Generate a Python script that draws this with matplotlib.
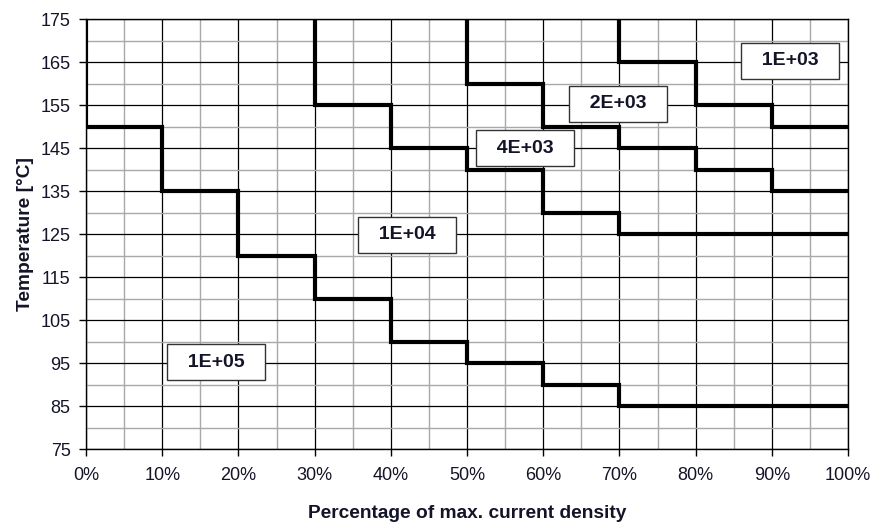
import numpy as np
import matplotlib
matplotlib.use("Agg")
import matplotlib.pyplot as plt
from matplotlib.ticker import FixedLocator, FuncFormatter

plt.rcParams['font.family'] = ['Liberation Sans', 'DejaVu Sans']

# Bin edges of current density (%) and temperature limits per 10 % bin.
bin_edges = [0, 10, 20, 30, 40, 50, 60, 70, 80, 90, 100]
limit_1e05 = [150, 135, 120, 110, 100, 95, 90, 85, 85, 85]
limit_1e04 = [None, None, None, 155, 145, 140, 130, 125, 125, 125]
limit_4e03 = [None, None, None, None, None, 160, 150, 145, 140, 135]
limit_2e03 = [None, None, None, None, None, None, None, 165, 155, 150]
curves = [limit_1e05, limit_1e04, limit_4e03, limit_2e03]

# Region labels (lifetime) and their anchor positions (%, °C)
region_labels = ['1E+05', '1E+04', '4E+03', '2E+03', '1E+03']
region_x = [17.1, 42.1, 57.6, 69.8, 92.4]
region_y = [95.2, 124.8, 145.0, 155.3, 165.3]

# Axis tick values
x_major = [0, 10, 20, 30, 40, 50, 60, 70, 80, 90, 100]
x_minor = [5, 15, 25, 35, 45, 55, 65, 75, 85, 95]
y_major = [75, 85, 95, 105, 115, 125, 135, 145, 155, 165, 175]
y_minor = [80, 90, 100, 110, 120, 130, 140, 150, 160, 170]

Y_MIN, Y_MAX = 75, 175
TEXT = '#141428'

fig = plt.figure(figsize=(8.73, 5.24), dpi=100)
ax = fig.add_axes([0.0985, 0.1431, 0.8729, 0.8206])
ax.set_xlim(0, 100)
ax.set_ylim(Y_MIN, Y_MAX)

ax.xaxis.set_major_locator(FixedLocator(x_major))
ax.xaxis.set_minor_locator(FixedLocator(x_minor))
ax.yaxis.set_major_locator(FixedLocator(y_major))
ax.yaxis.set_minor_locator(FixedLocator(y_minor))
ax.xaxis.set_major_formatter(FuncFormatter(lambda v, p: f"{v:.0f}%"))
ax.yaxis.set_major_formatter(FuncFormatter(lambda v, p: f"{v:.0f}"))

ax.grid(which='minor', color='#a8a8a8', linewidth=1.0, zorder=1)
ax.grid(which='major', color='black', linewidth=0.9, zorder=2)
ax.set_axisbelow(True)

ax.tick_params(which='major', direction='out', length=5, width=1, colors='black',
               labelsize=13, labelcolor=TEXT)
ax.tick_params(axis='y', which='major', pad=6)
ax.tick_params(axis='x', which='major', pad=8)
ax.tick_params(which='minor', length=0)
for s in ax.spines.values():
    s.set_color('black')
    s.set_linewidth(1.0)

for levels in curves:
    xs, ys = [], []
    for i, v in enumerate(levels):
        if v is None:
            continue
        left, right = bin_edges[i], bin_edges[i + 1]
        if not xs:
            xs.append(left)
            ys.append(Y_MAX)
        xs += [left, right]
        ys += [v, v]
    ax.plot(xs, ys, color='black', linewidth=3.0, solid_joinstyle='miter',
            solid_capstyle='butt', zorder=3)

for lab, x, y in zip(region_labels, region_x, region_y):
    ax.text(x, y, f"  {lab}  ", ha='center', va='center', fontsize=14,
            fontweight='bold', color=TEXT, zorder=5,
            bbox=dict(boxstyle='square,pad=0.5', facecolor='white',
                      edgecolor='#333333', linewidth=1.0))

ax.set_xlabel('Percentage of max. current density', fontsize=13.8,
              fontweight='bold', color=TEXT, labelpad=15)
ax.set_ylabel('Temperature [°C]', fontsize=13.8, fontweight='bold',
              color=TEXT, labelpad=5)

fig.savefig('out.png', dpi=100, facecolor='white')
